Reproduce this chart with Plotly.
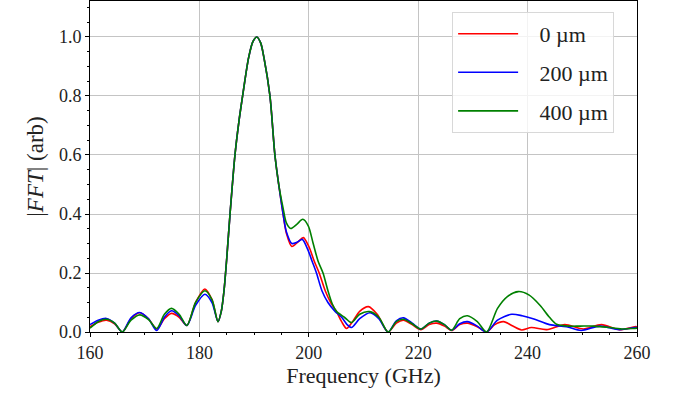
import plotly.graph_objects as go

# ---------------- data ----------------
peak_f = [183.4, 184.0, 184.5, 185.0, 185.6, 186.5, 187.2, 187.9, 189.0, 189.8, 190.5, 191.2, 191.8, 192.9, 193.8, 194.5]
peak_v = [0.035, 0.07, 0.14, 0.25, 0.40, 0.60, 0.71, 0.80, 0.93, 0.985, 1.0, 0.98, 0.93, 0.80, 0.60, 0.50]

freq_0 = [160, 161.5, 163.0, 164.5, 165.9, 167.5, 169.1, 170.7, 172.2, 173.6, 174.9, 176.3, 177.7, 179.3, 181.0, 182.3] + peak_f + [
    195.3, 195.9, 196.9, 198.0, 199.0, 200.0, 201.0, 201.9, 203.0, 204.0, 205.1, 206.0, 206.9, 208.0, 209.3, 210.9, 212.5,
    214.5, 216.0, 217.3, 218.9, 220.5, 222.0, 223.4, 224.8, 226.1, 227.6, 229.0, 230.8, 232.5, 234.0, 235.6, 237.3, 238.9,
    240.7, 243.5, 246.8, 250.2, 253.5, 256.8, 259.6, 260]
amp_0 = [0.018, 0.033, 0.040, 0.028, 0.0, 0.045, 0.065, 0.045, 0.01, 0.045, 0.063, 0.05, 0.022, 0.10, 0.146, 0.11] + peak_v + [
    0.40, 0.335, 0.29, 0.305, 0.32, 0.29, 0.24, 0.20, 0.14, 0.10, 0.068, 0.035, 0.012, 0.035, 0.07, 0.086, 0.06,
    0.0, 0.03, 0.040, 0.025, 0.008, 0.025, 0.030, 0.02, 0.005, 0.025, 0.030, 0.018, 0.0, 0.025, 0.035, 0.02, 0.007,
    0.015, 0.008, 0.025, 0.01, 0.025, 0.008, 0.018, 0.018]

freq_200 = [160, 161.5, 163.0, 164.5, 165.9, 167.5, 169.1, 170.7, 172.2, 173.6, 174.9, 176.3, 177.7, 179.3, 181.0, 182.3] + peak_f + [
    195.3, 195.9, 196.9, 197.9, 198.8, 199.8, 200.6, 201.4, 202.4, 203.5, 204.8, 206.0, 207.0, 207.8, 209.3, 211.2, 212.8,
    214.5, 216.0, 217.3, 218.9, 220.5, 222.0, 223.4, 224.8, 226.1, 227.6, 229.0, 230.8, 232.5, 234.5, 237.1, 239.0, 241.0,
    244.0, 247.1, 249.8, 253.2, 256.8, 259.6, 260]
amp_200 = [0.025, 0.04, 0.046, 0.03, 0.0, 0.048, 0.066, 0.045, 0.005, 0.05, 0.072, 0.055, 0.022, 0.09, 0.128, 0.10] + peak_v + [
    0.40, 0.34, 0.30, 0.305, 0.314, 0.28, 0.24, 0.20, 0.14, 0.10, 0.07, 0.05, 0.025, 0.015, 0.045, 0.065, 0.045,
    0.0, 0.038, 0.048, 0.03, 0.01, 0.03, 0.037, 0.025, 0.006, 0.028, 0.035, 0.02, 0.0, 0.04, 0.06, 0.055, 0.045,
    0.025, 0.018, 0.005, 0.02, 0.008, 0.015, 0.015]

freq_400 = [160, 161.5, 163.0, 164.5, 165.9, 167.5, 169.1, 170.7, 172.2, 173.6, 174.9, 176.3, 177.7, 179.3, 181.0, 182.3] + peak_f + [
    195.3, 195.9, 196.7, 197.8, 198.9, 199.9, 200.8, 201.7, 202.6, 203.5, 204.3, 205.1, 206.5, 207.8, 209.3, 211.1, 212.8,
    214.5, 216.0, 217.3, 218.9, 220.5, 222.0, 223.4, 224.8, 226.1, 227.6, 229.0, 230.8, 232.5, 234.5, 236.3, 238.3, 240.3,
    242.3, 244.0, 245.3, 247.5, 249.6, 252.0, 255.1, 257.5, 259.4, 260]
amp_400 = [0.013, 0.035, 0.043, 0.03, 0.0, 0.04, 0.058, 0.042, 0.012, 0.06, 0.080, 0.06, 0.022, 0.10, 0.140, 0.11] + peak_v + [
    0.42, 0.37, 0.351, 0.365, 0.382, 0.36, 0.30, 0.24, 0.20, 0.14, 0.095, 0.069, 0.05, 0.032, 0.06, 0.069, 0.05,
    0.0, 0.035, 0.043, 0.028, 0.01, 0.03, 0.037, 0.025, 0.006, 0.045, 0.055, 0.035, 0.0, 0.08, 0.12, 0.137, 0.125,
    0.09, 0.05, 0.026, 0.02, 0.02, 0.02, 0.015, 0.01, 0.012, 0.013]

series_names = ["0 µm", "200 µm", "400 µm"]
series_colors = ["#ff0000", "#0000ff", "#008000"]
x_ticks = [160, 180, 200, 220, 240, 260]
y_ticks = [0.0, 0.2, 0.4, 0.6, 0.8, 1.0]

FONT = "Liberation Serif"
PAD = "\u00a0\u00a0\u00a0"

fig = go.Figure()
for i, (fx, fy) in enumerate([(freq_0, amp_0), (freq_200, amp_200), (freq_400, amp_400)]):
    fig.add_trace(go.Scatter(
        x=fx, y=fy, mode="lines", name=PAD + series_names[i], legendgroup=f"g{i}",
        line=dict(color=series_colors[i], width=1.6, shape="spline", smoothing=0.8),
    ))

axis_common = dict(
    showline=True, linecolor="black", linewidth=1, mirror=True,
    ticks="outside", tickcolor="black", ticklen=4, tickwidth=1,
    showgrid=True, gridcolor="#c4c4c4", gridwidth=1, zeroline=False,
    tickfont=dict(family=FONT, size=18, color="#222"),
)

fig.update_xaxes(
    range=[160, 260], tickvals=x_ticks,
    title=dict(text="Frequency (GHz)", font=dict(family=FONT, size=22, color="#222"), standoff=5),
    minor=dict(dtick=5, tick0=160, ticks="outside", ticklen=2, tickcolor="black", showgrid=False),
    **axis_common,
)
fig.update_yaxes(
    range=[0, 1.122], tickvals=y_ticks, tickformat=".1f",
    title=dict(text="|<i>FFT</i>| (arb)", font=dict(family=FONT, size=23, color="#222"), standoff=8),
    minor=dict(dtick=0.05, tick0=0, ticks="outside", ticklen=2, tickcolor="black", showgrid=False),
    **axis_common,
)

fig.update_layout(
    width=677, height=397,
    margin=dict(l=90, r=40, t=1, b=65),
    plot_bgcolor="white", paper_bgcolor="white",
    legend=dict(
        x=0.662, y=0.967, xanchor="left", yanchor="top",
        bgcolor="rgba(255,255,255,0.8)", bordercolor="#d8d8d8", borderwidth=1,
        font=dict(family=FONT, size=22, color="#222"),
        tracegroupgap=7, itemwidth=60,
    ),
    showlegend=True,
)

fig.write_html("out.html")
